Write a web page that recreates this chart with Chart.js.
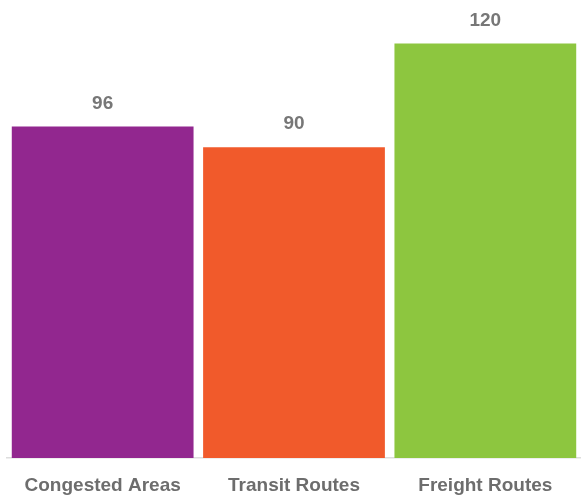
<!DOCTYPE html>
<html>
<head>
<meta charset="utf-8">
<script src="https://cdn.jsdelivr.net/npm/chart.js@4"></script>
<style>
  html, body { margin: 0; padding: 0; background: #fff; }
  #wrap { width: 581px; height: 495px; }
</style>
</head>
<body>
<div id="wrap"><canvas id="chart"></canvas></div>
<script>
// Données
const categories = ['Congested Areas', 'Transit Routes', 'Freight Routes'];
const values = [96, 90, 120];
const barColors = ['#92278f', '#f15a2b', '#8dc63f'];

// Valeurs au-dessus des barres
const valueLabels = {
    id: 'valueLabels',
    afterDatasetsDraw(chart) {
        const ctx = chart.ctx;
        const meta = chart.getDatasetMeta(0);
        ctx.save();
        ctx.font = 'bold 19px "Liberation Sans", Arial, sans-serif';
        ctx.fillStyle = '#777777';
        ctx.textAlign = 'center';
        ctx.textBaseline = 'middle';
        meta.data.forEach((bar, i) => {
            ctx.fillText(String(values[i]), bar.x, bar.y - 23);
        });
        ctx.restore();
    }
};

new Chart(document.getElementById('chart'), {
    type: 'bar',
    data: {
        labels: categories,
        datasets: [{
            data: values,
            backgroundColor: barColors,
            borderWidth: 0,
            barPercentage: 0.95,
            categoryPercentage: 1
        }]
    },
    options: {
        responsive: true,
        maintainAspectRatio: false,
        animation: false,
        layout: { padding: { left: 7, top: 9, right: 0, bottom: 0 } },
        plugins: {
            legend: { display: false },
            tooltip: { enabled: false }
        },
        scales: {
            y: {
                display: false,
                min: 0,
                max: 130
            },
            x: {
                grid: { display: false, drawTicks: false, tickLength: 0 },
                border: { display: true, color: '#dddddd', width: 1.5 },
                ticks: {
                    color: '#6d6d6d',
                    padding: 16,
                    font: { family: '"Liberation Sans", Arial, sans-serif', size: 19, weight: 'bold' }
                },
                afterFit(scale) { scale.height = 37; }
            }
        }
    },
    plugins: [valueLabels]
});
</script>
</body>
</html>
